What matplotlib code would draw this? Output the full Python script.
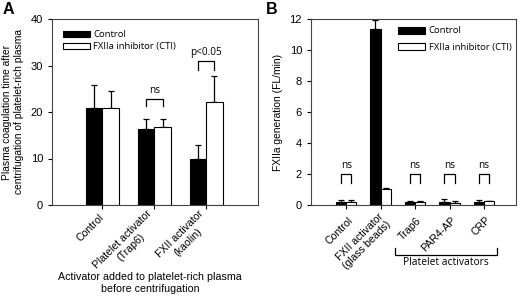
import numpy as np
import matplotlib
matplotlib.use("Agg")
import matplotlib.pyplot as plt
import matplotlib.transforms as mtransforms

plt.rcParams['font.family'] = ['Liberation Sans', 'DejaVu Sans']

# Panel A data
a_groups = ['Control', 'Platelet activator\n(Trap6)', 'FXII activator\n(kaolin)']
a_control = [20.9, 16.3, 10.0]
a_control_err = [4.9, 2.3, 2.8]
a_cti = [20.9, 16.7, 22.2]
a_cti_err = [3.6, 1.9, 5.5]

# Panel B data
b_groups = ['Control', 'FXII activator\n(glass beads)', 'Trap6', 'PAR4-AP', 'CRP']
b_control = [0.20, 11.35, 0.17, 0.18, 0.22]
b_control_err = [0.10, 0.60, 0.10, 0.19, 0.08]
b_cti = [0.20, 1.05, 0.18, 0.15, 0.23]
b_cti_err = [0.10, 0.05, 0.10, 0.13, 0.05]

legend_font = 'Open Sans'
small = 6.8

fig = plt.figure(figsize=(5.2, 2.97), dpi=100)


def draw_bars(ax, control, control_err, cti, cti_err, width, capsize):
    x = np.arange(len(control))
    ax.bar(x - width / 2, control, width, color='black', edgecolor='black',
           linewidth=0.8, label='Control', zorder=2)
    ax.bar(x + width / 2, cti, width, color='white', edgecolor='black',
           linewidth=0.8, label='FXIIa inhibitor (CTI)', zorder=2)
    ax.errorbar(x - width / 2, control, yerr=[np.zeros(len(x)), control_err],
                fmt='none', ecolor='black', elinewidth=0.9, capsize=capsize,
                capthick=0.9, zorder=1)
    ax.errorbar(x + width / 2, cti, yerr=[np.zeros(len(x)), cti_err],
                fmt='none', ecolor='black', elinewidth=0.9, capsize=capsize,
                capthick=0.9, zorder=1)
    return x


def bracket(ax, x0, x1, top, leg, label):
    ax.plot([x0, x0, x1, x1], [top - leg, top, top, top - leg],
            color='black', lw=0.9)
    ax.text((x0 + x1) / 2, top + leg * 0.35, label, ha='center', va='bottom',
            fontsize=7.2, family=legend_font)


def style_axes(ax, labels, shift=0.0):
    for s in ax.spines.values():
        s.set_linewidth(0.8)
        s.set_color('#444444')
    ax.tick_params(direction='out', length=3, width=0.8, labelsize=8)
    ax.tick_params(axis='x', pad=5)
    ax.set_xticklabels(labels, rotation=45, ha='right', va='center',
                       rotation_mode='anchor', fontsize=7.6,
                       multialignment='center', linespacing=1.1)
    if shift:
        offset = mtransforms.ScaledTranslation(shift, -shift / 2, fig.dpi_scale_trans)
        for lab in ax.get_xticklabels():
            lab.set_transform(lab.get_transform() + offset)


# ---- Panel A ----
axA = fig.add_axes([52 / 520, 92 / 297, 206 / 520, 186 / 297])
w = 0.32
xa = draw_bars(axA, a_control, a_control_err, a_cti, a_cti_err, w, 2.2)
axA.set_xlim(-0.97, 3.0)
axA.set_ylim(0, 40)
axA.set_yticks([0, 10, 20, 30, 40])
axA.set_xticks(xa)
style_axes(axA, a_groups)
axA.set_ylabel('Plasma coagulation time after\ncentrifugation of platelet-rich plasma',
               fontsize=7.4, labelpad=5)
bracket(axA, 1 - w / 2, 1 + w / 2, 22.9, 1.7, 'ns')
bracket(axA, 2 - w / 2, 2 + w / 2, 31.0, 1.9, 'p<0.05')
axA.legend(loc='upper left', bbox_to_anchor=(0.052, 0.94), frameon=False,
           prop={'family': legend_font, 'size': small},
           handlelength=2.9, handleheight=0.65, labelspacing=0.35,
           handletextpad=0.35, borderpad=0, borderaxespad=0)
fig.text(150 / 520, 1 - 272 / 297,
         'Activator added to platelet-rich plasma\nbefore centrifugation',
         ha='center', va='top', fontsize=7.7, linespacing=1.25)

# ---- Panel B ----
axB = fig.add_axes([311 / 520, 92 / 297, 205 / 520, 186 / 297])
wb = 0.30
xb = draw_bars(axB, b_control, b_control_err, b_cti, b_cti_err, wb, 2.0)
axB.set_xlim(-1.02, 4.93)
axB.set_ylim(0, 12)
axB.set_yticks([0, 2, 4, 6, 8, 10, 12])
axB.set_xticks(xb)
style_axes(axB, b_groups, shift=0.05)
axB.set_ylabel('FXIIa generation (FL/min)', fontsize=7.4, labelpad=5)
for i in [0, 2, 3, 4]:
    bracket(axB, i - wb / 2, i + wb / 2, 2.0, 0.55, 'ns')
axB.legend(loc='upper left', bbox_to_anchor=(0.424, 0.96), frameon=False,
           prop={'family': legend_font, 'size': small},
           handlelength=2.9, handleheight=0.8, labelspacing=0.75,
           handletextpad=0.35, borderpad=0, borderaxespad=0)

# "Platelet activators" bracket below tick labels
bx0, bx1 = 395 / 520, 497 / 520
fig.lines.append(plt.Line2D([bx0, bx0, bx1, bx1],
                            [1 - 248 / 297, 1 - 255 / 297, 1 - 255 / 297, 1 - 248 / 297],
                            transform=fig.transFigure, color='black', lw=0.9))
fig.text((bx0 + bx1) / 2, 1 - 257 / 297, 'Platelet activators', ha='center',
         va='top', fontsize=7.4, family=legend_font)

# panel letters
fig.text(3 / 520, 1 - 2 / 297, 'A', fontsize=11.5, fontweight='bold', va='top')
fig.text(266 / 520, 1 - 2 / 297, 'B', fontsize=11.5, fontweight='bold', va='top')

fig.savefig('out.png', dpi=100)
